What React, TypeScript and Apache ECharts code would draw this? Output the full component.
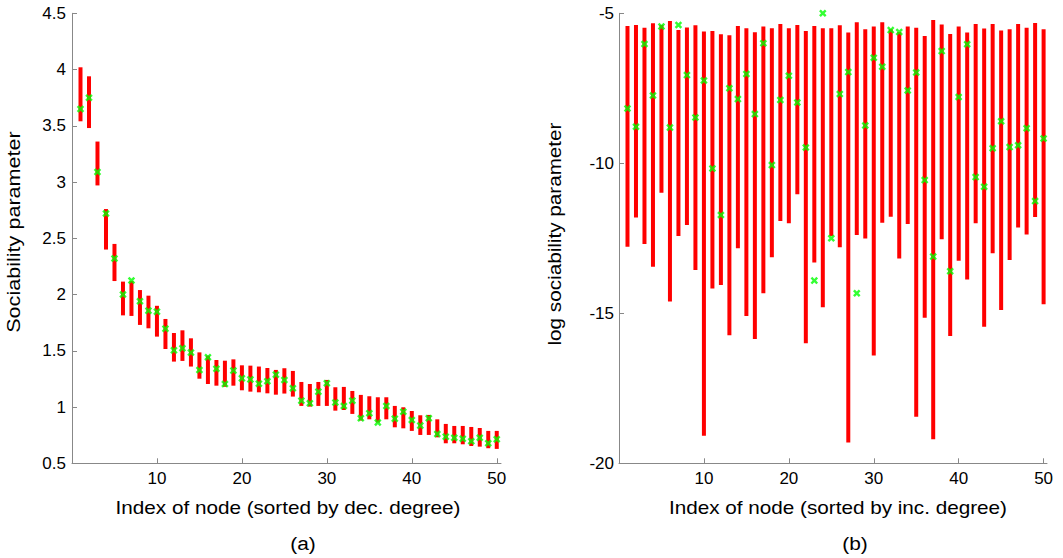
import React, { useEffect, useRef } from "react";
import * as echarts from "echarts";

const nodeIndex = [
  1, 2, 3, 4, 5, 6, 7, 8, 9, 10, 11, 12, 13, 14, 15, 16, 17, 18, 19, 20, 21, 22, 23, 24, 25,
  26, 27, 28, 29, 30, 31, 32, 33, 34, 35, 36, 37, 38, 39, 40, 41, 42, 43, 44, 45, 46, 47, 48, 49, 50,
];

// Panel (a): sociability parameter, sorted by decreasing degree
const aHigh = [
  4.02, 3.94, 3.36, 2.76, 2.45, 2.115, 2.12, 2.04, 1.99, 1.9, 1.783, 1.658, 1.682, 1.611, 1.486,
  1.457, 1.418, 1.412, 1.424, 1.371, 1.368, 1.36, 1.347, 1.33, 1.345, 1.321, 1.223, 1.205, 1.223,
  1.241, 1.176, 1.179, 1.143, 1.108, 1.096, 1.087, 1.087, 1.01, 0.998, 0.965, 0.927, 0.93, 0.891,
  0.85, 0.832, 0.832, 0.823, 0.814, 0.788, 0.788,
];
const aLow = [
  3.54, 3.48, 2.97, 2.4, 2.12, 1.815, 1.81, 1.73, 1.7, 1.626, 1.516, 1.404, 1.41, 1.36, 1.252,
  1.205, 1.19, 1.18, 1.19, 1.149, 1.137, 1.131, 1.122, 1.11, 1.12, 1.093, 1.01, 1.004, 1.01, 1.01,
  0.968, 0.974, 0.939, 0.88, 0.891, 0.862, 0.891, 0.82, 0.811, 0.788, 0.752, 0.752, 0.731, 0.678,
  0.678, 0.669, 0.654, 0.648, 0.634, 0.628,
];
const aEst = [
  3.65, 3.75, 3.09, 2.72, 2.32, 2.0, 2.125, 1.94, 1.857, 1.848, 1.697, 1.504, 1.522, 1.484, 1.33,
  1.442, 1.341, 1.205, 1.324, 1.255, 1.246, 1.208, 1.229, 1.288, 1.241, 1.167, 1.057, 1.034, 1.137,
  1.211, 1.04, 1.01, 1.057, 0.9, 0.945, 0.862, 1.01, 0.897, 0.959, 0.885, 0.835, 0.9, 0.761, 0.737,
  0.728, 0.719, 0.696, 0.728, 0.678, 0.713,
];

// Panel (b): log sociability parameter, sorted by increasing degree
const bHigh = [
  -5.42, -5.39, -5.48, -5.33, -5.39, -5.26, -5.56, -5.47, -5.4, -5.61, -5.59, -5.7, -5.73, -5.42,
  -5.5, -5.63, -5.44, -5.5, -5.36, -5.5, -5.39, -5.59, -5.42, -5.5, -5.5, -5.4, -5.64, -5.3, -5.53,
  -5.44, -5.3, -5.53, -5.62, -5.44, -5.48, -5.76, -5.22, -5.37, -5.69, -5.44, -5.64, -5.36, -5.51,
  -5.36, -5.57, -5.53, -5.36, -5.48, -5.32, -5.53,
];
const bLow = [
  -12.78, -11.81, -12.69, -13.45, -10.98, -14.61, -12.42, -12.06, -13.56, -19.08, -14.17, -14.06,
  -15.73, -12.83, -15.09, -15.86, -14.33, -13.13, -11.92, -12.0, -11.03, -16.0, -13.31, -14.8,
  -12.42, -12.8, -19.31, -12.39, -12.51, -16.41, -11.98, -11.78, -13.17, -12.02, -18.45, -15.15,
  -19.2, -12.53, -15.76, -13.25, -13.87, -12.0, -15.45, -13.0, -14.89, -13.22, -12.14, -12.37,
  -11.79, -14.7,
];
const bEst = [
  -8.17, -8.78, -6.02, -7.74, -5.44, -8.81, -5.39, -7.06, -8.47, -7.24, -10.17, -11.72, -7.5,
  -7.86, -7.02, -8.36, -6.0, -10.06, -7.89, -7.08, -7.97, -9.47, -13.91, -5.0, -12.5, -7.69, -6.96,
  -14.33, -8.74, -6.48, -6.78, -5.56, -5.62, -7.57, -6.97, -10.56, -13.11, -6.26, -13.6, -7.79,
  -6.03, -10.46, -10.78, -9.5, -8.6, -9.46, -9.4, -8.83, -11.26, -9.17,
];

const xTicks = [10, 20, 30, 40, 50];

const FONT = "'Liberation Sans', Arial, Helvetica, sans-serif";
const X_SYMBOL =
  "path://M0,2.3L2.3,0L5,2.7L7.7,0L10,2.3L7.3,5L10,7.7L7.7,10L5,7.3L2.3,10L0,7.7L2.7,5Z";

function buildOption() {
  const axisLineStyle = { color: "#888888", width: 1 };
  const makeX = (gridIndex: number, max: number) => ({
    type: "value",
    gridIndex,
    min: 0,
    max,
    interval: 10,
    axisLine: { show: true, lineStyle: axisLineStyle },
    axisTick: {
      show: true,
      inside: true,
      length: 5,
      lineStyle: axisLineStyle,
      customValues: xTicks,
    },
    axisLabel: {
      color: "#000",
      fontSize: 17,
      fontFamily: FONT,
      margin: 7,
      customValues: xTicks,
      formatter: (v: number) => (v === 0 ? "" : String(v)),
    },
    splitLine: { show: false },
  });
  const makeY = (gridIndex: number, min: number, max: number, interval: number, margin: number) => ({
    type: "value",
    gridIndex,
    min,
    max,
    interval,
    axisLine: { show: true, lineStyle: axisLineStyle },
    axisTick: { show: true, inside: true, length: 5, lineStyle: axisLineStyle },
    axisLabel: { color: "#000", fontSize: 17, fontFamily: FONT, margin },
    splitLine: { show: false },
  });

  const renderBar = (params: any, api: any) => {
    const x = api.value(0);
    const lo = api.value(1);
    const hi = api.value(2);
    const pTop = api.coord([x, hi]);
    const pBot = api.coord([x, lo]);
    return {
      type: "rect",
      shape: { x: pTop[0] - 2, y: pTop[1], width: 4, height: pBot[1] - pTop[1] },
      style: { fill: "#ff0000" },
    };
  };

  const aBars = nodeIndex.map((n, i) => [n, aLow[i], aHigh[i]]);
  const bBars = nodeIndex.map((n, i) => [n, bLow[i], bHigh[i]]);
  const aPts = nodeIndex.map((n, i) => [n, aEst[i]]);
  const bPts = nodeIndex.map((n, i) => [n, bEst[i]]);

  const titleStyle = (text: string) => ({
    text,
    fontSize: 18,
    fontFamily: FONT,
    fill: "#000",
    align: "center",
    verticalAlign: "middle",
  });

  return {
    animation: false,
    backgroundColor: "#ffffff",
    grid: [
      { left: 72, top: 13.3, width: 429, height: 450 },
      { left: 619, top: 13.3, width: 428, height: 450 },
    ],
    xAxis: [makeX(0, 50.5), makeX(1, 50.4)],
    yAxis: [makeY(0, 0.5, 4.5, 0.5, 6), makeY(1, -20, -5, 5, 5)],
    series: [
      {
        type: "custom",
        xAxisIndex: 0,
        yAxisIndex: 0,
        renderItem: renderBar,
        encode: { x: 0, y: [1, 2] },
        data: aBars,
        z: 2,
      },
      {
        type: "scatter",
        xAxisIndex: 0,
        yAxisIndex: 0,
        symbol: X_SYMBOL,
        symbolSize: 7.5,
        itemStyle: { color: "#00ff00" },
        data: aPts,
        z: 3,
      },
      {
        type: "custom",
        xAxisIndex: 1,
        yAxisIndex: 1,
        renderItem: renderBar,
        encode: { x: 0, y: [1, 2] },
        data: bBars,
        z: 2,
      },
      {
        type: "scatter",
        xAxisIndex: 1,
        yAxisIndex: 1,
        symbol: X_SYMBOL,
        symbolSize: 7.5,
        itemStyle: { color: "#00ff00" },
        data: bPts,
        z: 3,
      },
    ],
    graphic: [
      {
        type: "text",
        x: 14,
        y: 232,
        rotation: Math.PI / 2,
        scaleX: 1.2,
        style: titleStyle("Sociability parameter"),
      },
      {
        type: "text",
        x: 555,
        y: 234,
        rotation: Math.PI / 2,
        scaleX: 1.15,
        style: titleStyle("log sociability parameter"),
      },
      {
        type: "text",
        x: 288,
        y: 508,
        scaleX: 1.15,
        style: titleStyle("Index of node (sorted by dec. degree)"),
      },
      {
        type: "text",
        x: 838,
        y: 508,
        scaleX: 1.15,
        style: titleStyle("Index of node (sorted by inc. degree)"),
      },
      {
        type: "text",
        x: 303,
        y: 543,
        scaleX: 1.1,
        style: { ...titleStyle("(a)"), fontSize: 19 },
      },
      {
        type: "text",
        x: 855,
        y: 543,
        scaleX: 1.1,
        style: { ...titleStyle("(b)"), fontSize: 19 },
      },
    ],
  };
}

export default function App() {
  const ref = useRef<HTMLDivElement>(null);
  useEffect(() => {
    document.body.style.margin = "0";
    if (!ref.current) return;
    const chart = echarts.init(ref.current, null, { renderer: "svg" });
    chart.setOption(buildOption() as any);
    return () => chart.dispose();
  }, []);
  return <div ref={ref} style={{ width: 1063, height: 558, background: "#fff" }} />;
}
